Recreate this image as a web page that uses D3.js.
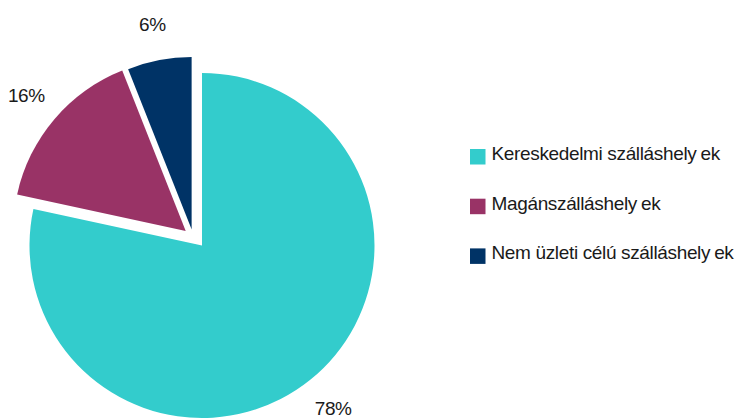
<!DOCTYPE html>
<html>
<head>
<meta charset="utf-8">
<script src="https://cdn.jsdelivr.net/npm/d3@7"></script>
<style>
  html, body { margin: 0; padding: 0; background: #ffffff; }
  svg { display: block; }
  text { font-family: "Liberation Sans", Arial, sans-serif; fill: #1a1a1a; letter-spacing: -0.35px; }
</style>
</head>
<body>
<svg id="chart" width="738" height="419"></svg>
<script>
// ---- data ----
const categories = ["Kereskedelmi szálláshelyek", "Magánszálláshelyek", "Nem üzleti célú szálláshelyek"];
const legendMain = ["Kereskedelmi szálláshely", "Magánszálláshely", "Nem üzleti célú szálláshely"];
const legendTail = ["ek", "ek", "ek"];
const values = [78.4, 15.6, 6.0];
const percentLabels = ["78%", "16%", "6%"];

// ---- styles / layout ----
const colors = ["#33CCCC", "#993366", "#003366"];
const explodeDist = [0, 21.8, 19];
const explodeAngleDeg = [null, 311.7, 327];
const W = 738, H = 419;
const cx = 202, cy = 245.5, R = 172.5, labelR = 209;

const svg = d3.select("#chart");
const pie = d3.pie().sort(null).value(d => d)(values);
const arc = d3.arc().innerRadius(0).outerRadius(R);

const g = svg.append("g").attr("transform", `translate(${cx},${cy})`);

function offset(i, d) {
  const ang = explodeAngleDeg[i] == null ? (d.startAngle + d.endAngle) / 2 : explodeAngleDeg[i] * Math.PI / 180;
  return [Math.sin(ang) * explodeDist[i], -Math.cos(ang) * explodeDist[i]];
}

const slices = g.selectAll("g.slice").data(pie).enter().append("g")
  .attr("class", "slice")
  .attr("transform", (d, i) => { const o = offset(i, d); return `translate(${o[0]},${o[1]})`; });

slices.append("path")
  .attr("d", arc)
  .attr("fill", (d, i) => colors[i]);

slices.append("text")
  .attr("x", d => Math.sin((d.startAngle + d.endAngle) / 2) * labelR)
  .attr("y", d => -Math.cos((d.startAngle + d.endAngle) / 2) * labelR)
  .attr("text-anchor", "middle")
  .attr("dominant-baseline", "central")
  .style("font-size", "19px")
  .text((d, i) => percentLabels[i]);

// ---- legend ----
const legend = svg.append("g").attr("transform", "translate(470,149)");
const items = legend.selectAll("g.item").data(categories).enter().append("g")
  .attr("class", "item")
  .attr("transform", (d, i) => `translate(0,${i * 49.7})`);

items.append("rect")
  .attr("width", 15.5).attr("height", 15.5)
  .attr("fill", (d, i) => colors[i]);

const lt = items.append("text")
  .attr("x", 21.5).attr("y", 10.8)
  .style("font-size", "19px");
lt.append("tspan").text((d, i) => legendMain[i]);
lt.append("tspan").attr("dx", 4).text((d, i) => legendTail[i]);
</script>
</body>
</html>
